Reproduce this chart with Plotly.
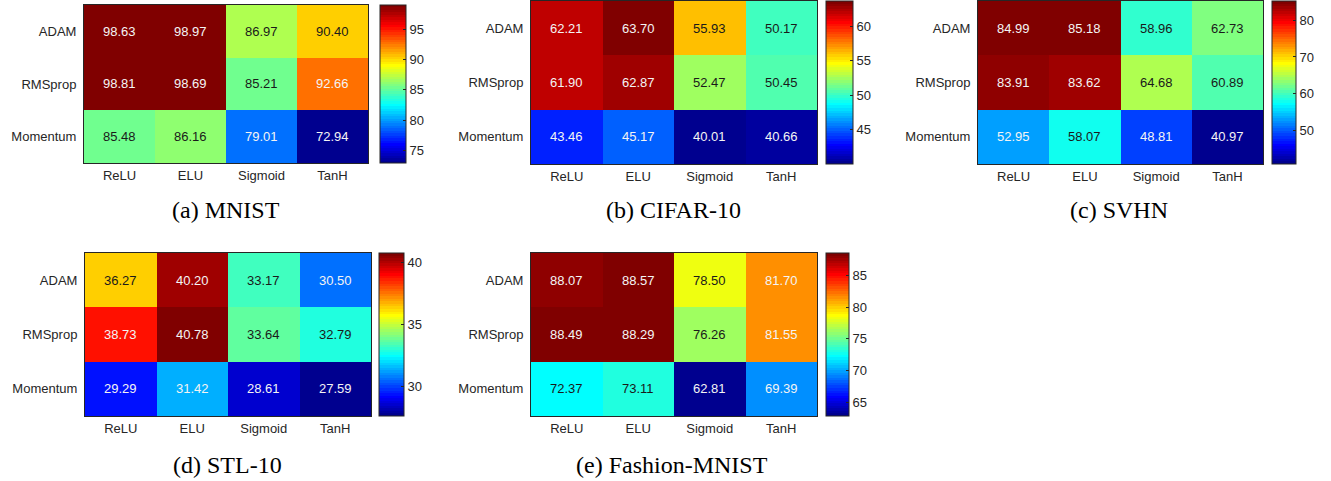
import numpy as np
import plotly.graph_objects as go

# ---- data -------------------------------------------------------------
activations = ["ReLU", "ELU", "Sigmoid", "TanH"]
optimizers = ["ADAM", "RMSprop", "Momentum"]

mnist = [[98.63, 98.97, 86.97, 90.40],
         [98.81, 98.69, 85.21, 92.66],
         [85.48, 86.16, 79.01, 72.94]]
cifar10 = [[62.21, 63.70, 55.93, 50.17],
           [61.90, 62.87, 52.47, 50.45],
           [43.46, 45.17, 40.01, 40.66]]
svhn = [[84.99, 85.18, 58.96, 62.73],
        [83.91, 83.62, 64.68, 60.89],
        [52.95, 58.07, 48.81, 40.97]]
stl10 = [[36.27, 40.20, 33.17, 30.50],
         [38.73, 40.78, 33.64, 32.79],
         [29.29, 31.42, 28.61, 27.59]]
fashion = [[88.07, 88.57, 78.50, 81.70],
           [88.49, 88.29, 76.26, 81.55],
           [72.37, 73.11, 62.81, 69.39]]

captions = ["(a) MNIST", "(b) CIFAR-10", "(c) SVHN", "(d) STL-10", "(e) Fashion-MNIST"]
panels = [mnist, cifar10, svhn, stl10, fashion]
cbar_steps = [5, 5, 10, 5, 5]

W, H = 1331, 481

# pixel boxes: heatmap (l, r, t, b), colorbar (l, r), caption (cx, cy)
boxes = [
    dict(hm=(84, 368, 5, 163), cb=(380, 406), cap=(226, 210)),
    dict(hm=(531, 817, 1, 164), cb=(826, 853), cap=(673, 210)),
    dict(hm=(978, 1263, 1, 164), cb=(1272, 1296), cap=(1119, 210)),
    dict(hm=(85, 371, 253, 416), cb=(379, 404), cap=(227, 465)),
    dict(hm=(531, 817, 253, 416), cb=(826, 849), cap=(672, 465)),
]


# ---- 64-level jet colormap -------------------------------------------
def jet(m=64):
    n = int(np.ceil(m / 4))
    u = np.concatenate([np.arange(1, n + 1) / n, np.ones(n - 1), np.arange(n, 0, -1) / n])
    g = int(np.ceil(n / 2)) - int(m % 4 == 1) + np.arange(1, len(u) + 1)
    r = g + n
    b = g - n
    g = g[g <= m]
    r = r[r <= m]
    b = b[b >= 1]
    J = np.zeros((m, 3))
    J[r - 1, 0] = u[:len(r)]
    J[g - 1, 1] = u[:len(g)]
    J[b - 1, 2] = u[len(u) - len(b):]
    return J


JET = jet(64)
NLEV = len(JET)


def rgb(c):
    return "rgb(%d,%d,%d)" % tuple(int(round(v * 255)) for v in c)


jet_scale = []
for i, c in enumerate(JET):
    jet_scale.append([i / NLEV, rgb(c)])
    jet_scale.append([(i + 1) / NLEV, rgb(c)])


def level_color(v, lo, hi):
    idx = int(np.floor((v - lo) / (hi - lo) * NLEV))
    idx = min(max(idx, 0), NLEV - 1)
    return JET[idx]


AX_COLOR = "#262626"
SANS = "Liberation Sans, Arial, sans-serif"
SERIF = "Liberation Serif, Times New Roman, serif"

fig = go.Figure()
layout = dict(
    width=W, height=H,
    margin=dict(l=0, r=0, t=0, b=0),
    paper_bgcolor="white", plot_bgcolor="white",
    showlegend=False,
)
annotations = []

for k, (z, box, cap, step) in enumerate(zip(panels, boxes, captions, cbar_steps), start=1):
    sfx = "" if k == 1 else str(k)
    zarr = np.array(z)
    lo, hi = float(zarr.min()), float(zarr.max())
    l, r, t, b = box["hm"]
    cl, cr = box["cb"]

    fig.add_trace(go.Heatmap(
        z=z, x=activations, y=optimizers,
        xaxis="x" + sfx, yaxis="y" + sfx,
        coloraxis="coloraxis" + sfx,
        hovertemplate="%{y} / %{x}: %{z:.2f}<extra></extra>",
    ))

    layout["xaxis" + sfx] = dict(
        domain=[l / W, r / W], anchor="y" + sfx,
        showline=True, mirror=True, linecolor=AX_COLOR, linewidth=1,
        ticks="", showgrid=False, zeroline=False,
        tickfont=dict(family=SANS, size=13, color=AX_COLOR),
        ticklabelstandoff=0,
    )
    layout["yaxis" + sfx] = dict(
        domain=[1 - b / H, 1 - t / H], anchor="x" + sfx,
        autorange="reversed",
        showline=True, mirror=True, linecolor=AX_COLOR, linewidth=1,
        ticks="", showgrid=False, zeroline=False,
        tickfont=dict(family=SANS, size=13, color=AX_COLOR),
        ticklabelstandoff=4,
    )
    layout["coloraxis" + sfx] = dict(
        colorscale=jet_scale, cmin=lo, cmax=hi,
        colorbar=dict(
            x=cl / W, xanchor="left", xpad=0,
            y=1 - t / H, yanchor="top", ypad=0,
            len=b - t, lenmode="pixels",
            thickness=cr - cl, thicknessmode="pixels",
            outlinewidth=1, outlinecolor=AX_COLOR,
            ticks="inside", ticklen=3, tickcolor=AX_COLOR,
            tick0=0, dtick=step,
            tickfont=dict(family=SANS, size=13, color=AX_COLOR),
        ),
    )

    # cell value labels, contrast colour chosen from the cell's fill
    for i, opt in enumerate(optimizers):
        for j, act in enumerate(activations):
            v = z[i][j]
            c = level_color(v, lo, hi)
            lum = 0.299 * c[0] + 0.587 * c[1] + 0.114 * c[2]
            annotations.append(dict(
                x=act, y=opt, xref="x" + sfx, yref="y" + sfx,
                text="%.2f" % v, showarrow=False,
                font=dict(family=SANS, size=13,
                          color="#f4f4f4" if lum < 0.66 else "#1a1a1a"),
            ))

    cx, cy = box["cap"]
    annotations.append(dict(
        x=cx / W, y=1 - cy / H, xref="paper", yref="paper",
        xanchor="center", yanchor="middle",
        text=cap, showarrow=False,
        font=dict(family=SERIF, size=24, color="black"),
    ))

layout["annotations"] = annotations
fig.update_layout(**layout)
fig.write_html("out.html")
